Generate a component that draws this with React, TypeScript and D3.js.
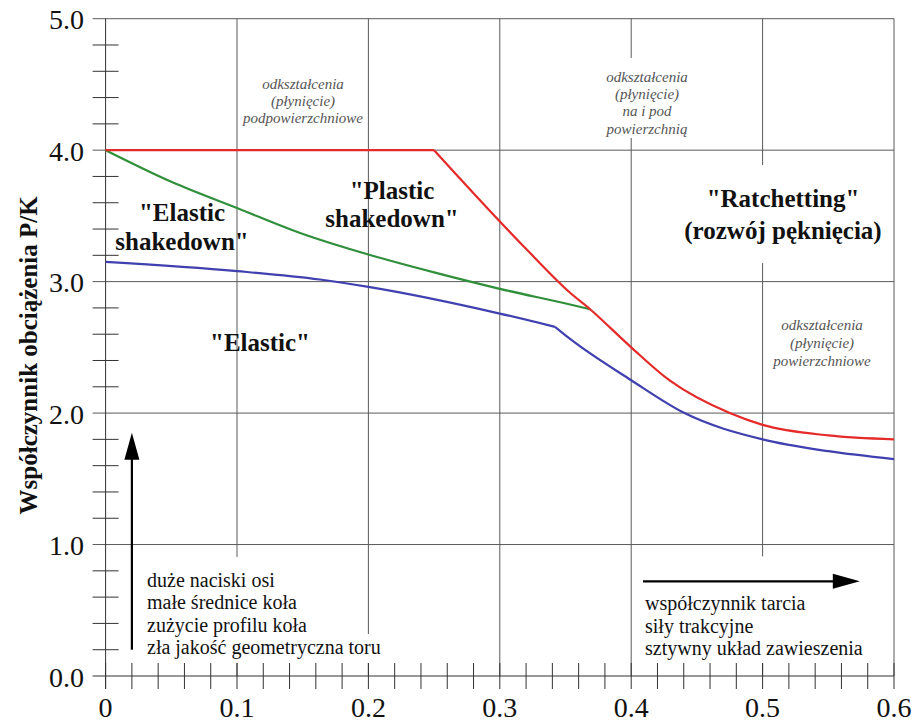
import * as d3 from "d3";

type Pt = [number, number];

const xTicks = [0, 0.1, 0.2, 0.3, 0.4, 0.5, 0.6];
const xTickLabels = ["0", "0.1", "0.2", "0.3", "0.4", "0.5", "0.6"];
const yTicks = [0, 1, 2, 3, 4, 5];
const yTickLabels = ["0.0", "1.0", "2.0", "3.0", "4.0", "5.0"];

// red: plastic shakedown limit (flat part + falling part)
const redPlateau: Pt[] = [[0, 4.0], [0.25, 4.0]];
const redDrop: Pt[] = [
  [0.25, 4.0], [0.3205, 3.244], [0.3535, 2.915], [0.3687, 2.79], [0.4, 2.5],
  [0.429, 2.25], [0.475, 2.0], [0.5, 1.91], [0.55, 1.83], [0.6, 1.8],
];
// green: elastic shakedown limit
const greenLimit: Pt[] = [
  [0, 4.0], [0.05, 3.76], [0.1, 3.56], [0.148, 3.37], [0.2, 3.206],
  [0.25, 3.07], [0.3, 2.945], [0.3535, 2.826], [0.3687, 2.79],
];
// blue: elastic limit (before and after the kink)
const blueUpper: Pt[] = [
  [0, 3.15], [0.1, 3.08], [0.163, 3.016], [0.2, 2.96], [0.3, 2.757], [0.342, 2.656],
];
const blueLower: Pt[] = [
  [0.342, 2.656], [0.3535, 2.564], [0.4, 2.25], [0.4406, 2.0], [0.5, 1.8],
  [0.55, 1.71], [0.6, 1.65],
];

const leftNotes = [
  "duże naciski osi",
  "małe średnice koła",
  "zużycie profilu koła",
  "zła jakość geometryczna toru",
];
const rightNotes = ["współczynnik tarcia", "siły trakcyjne", "sztywny układ zawieszenia"];
const subsurface = ["odkształcenia", "(płynięcie)", "podpowierzchniowe"];
const onAndUnder = ["odkształcenia", "(płynięcie)", "na i pod", "powierzchnią"];
const surface = ["odkształcenia", "(płynięcie)", "powierzchniowe"];

const SERIF = "Liberation Serif";
const W = 916;
const H = 722;

const x = d3.scaleLinear().domain([0, 0.6]).range([105.6, 894]);
const y = d3.scaleLinear().domain([0, 5]).range([676, 18.7]);
const tickOut = 13;

const straight = d3.line<Pt>().x((d) => x(d[0])).y((d) => y(d[1]));
const smooth = d3.line<Pt>().x((d) => x(d[0])).y((d) => y(d[1])).curve(d3.curveMonotoneX);

function Lines({
  lines, cx, cy, step, size, bold, italic, fill = "#111", anchor = "middle",
}: {
  lines: string[]; cx: number; cy: number; step: number; size: number;
  bold?: boolean; italic?: boolean; fill?: string; anchor?: "start" | "middle" | "end";
}) {
  return (
    <>
      {lines.map((t, i) => (
        <text
          key={i}
          x={cx}
          y={cy + i * step}
          dominantBaseline="central"
          fontFamily={SERIF}
          fontSize={size}
          fontWeight={bold ? "bold" : "normal"}
          fontStyle={italic ? "italic" : "normal"}
          fill={fill}
          textAnchor={anchor}
        >
          {t}
        </text>
      ))}
    </>
  );
}

export default function App() {
  const x0 = x(0);
  const yb = y(0);
  const leftEnd = x0 - tickOut;
  const yMinor = d3.range(1, 25).filter((i) => i % 5 !== 0).map((i) => i * 0.2);
  const xMinor = d3.range(0, 31).map((i) => i * 0.02);

  const ax = x(0.02);
  const aBottom = y(0.2);
  const aTip = y(1.85);
  const ry = y(0.72);
  const rStart = x(0.409);
  const rTip = x(0.574);
  const boxBottom = yb - tickOut;

  // white knock-outs behind some notes (gridlines are hidden there)
  const masks: [number, number, number, number][] = [
    [602, 58, 692, 138], // "na i pod powierzchnią" note
    [681, 165, 885, 263], // "Ratchetting"
    [143, 557, 277, boxBottom], // left notes, line by line
    [143, 590, 299, boxBottom],
    [143, 612, 309, boxBottom],
    [143, 634, 382, boxBottom],
    [rStart - 3, ry - 25, rTip + 4, boxBottom], // right notes + arrow
  ];

  return (
    <svg
      width={W}
      height={H}
      style={{ position: "absolute", left: 0, top: 0, background: "#fff" }}
    >
      {/* grid */}
      <g stroke="#5a5a5a" strokeWidth={1}>
        {xTicks.filter((d) => d > 0).map((d) => (
          <line key={"gv" + d} x1={x(d)} x2={x(d)} y1={y(5)} y2={yb} />
        ))}
        {yTicks.filter((d) => d > 0).map((d) => (
          <line key={"gh" + d} x1={leftEnd} x2={x(0.6)} y1={y(d)} y2={y(d)} />
        ))}
      </g>
      <g fill="#fff">
        {masks.map(([a, b, c, e], i) => (
          <rect key={i} x={a} y={b} width={c - a} height={e - b} />
        ))}
      </g>

      {/* axes */}
      <g stroke="#333" strokeWidth={1}>
        <line x1={x0} x2={x0} y1={y(5)} y2={yb + tickOut} />
        <line x1={leftEnd} x2={x(0.6)} y1={yb} y2={yb} />
        {yMinor.map((d) => (
          <line key={"ym" + d} x1={leftEnd} x2={x0 + tickOut} y1={y(d)} y2={y(d)} />
        ))}
        {xMinor.map((d) => (
          <line key={"xm" + d} x1={x(d)} x2={x(d)} y1={yb - tickOut} y2={yb + tickOut} />
        ))}
      </g>
      {yTicks.map((d, i) => (
        <text
          key={"yl" + d}
          x={84}
          y={y(d) + 1}
          textAnchor="end"
          dominantBaseline="central"
          fontFamily={SERIF}
          fontSize={28}
          fill="#111"
        >
          {yTickLabels[i]}
        </text>
      ))}
      {xTicks.map((d, i) => (
        <text
          key={"xl" + d}
          x={x(d)}
          y={707}
          textAnchor="middle"
          dominantBaseline="central"
          fontFamily={SERIF}
          fontSize={28}
          fill="#111"
        >
          {xTickLabels[i]}
        </text>
      ))}
      <text
        transform={`translate(28,${(y(0) + y(5)) / 2 + 8}) rotate(-90)`}
        textAnchor="middle"
        dominantBaseline="central"
        fontFamily={SERIF}
        fontSize={25}
        fontWeight="bold"
        fill="#111"
      >
        Współczynnik obciążenia P/K
      </text>

      {/* curves */}
      <g fill="none" strokeWidth={2.2}>
        <path d={smooth(blueUpper)!} stroke="#4040b0" />
        <path d={smooth(blueLower)!} stroke="#4040b0" />
        <path d={smooth(greenLimit)!} stroke="#2f8f3a" />
        <path d={straight(redPlateau)!} stroke="#e52a2a" />
        <path d={smooth(redDrop)!} stroke="#e52a2a" />
      </g>

      {/* region notes */}
      <Lines lines={subsurface} cx={303} cy={84} step={17.2} size={15} italic fill="#555" />
      <Lines lines={onAndUnder} cx={647} cy={77} step={17.2} size={15} italic fill="#555" />
      <Lines lines={surface} cx={822} cy={325} step={18} size={15} italic fill="#555" />

      <Lines lines={['"Elastic', 'shakedown"']} cx={182} cy={212} step={29} size={25} bold />
      <Lines lines={['"Plastic', 'shakedown"']} cx={392} cy={190} step={28.5} size={25} bold />
      <Lines lines={['"Ratchetting"', "(rozwój pęknięcia)"]} cx={783} cy={198} step={32} size={25} bold />
      <Lines lines={['"Elastic"']} cx={260} cy={342} step={0} size={25} bold />

      {/* bottom-left note */}
      <Lines lines={leftNotes} cx={147} cy={580} step={22.3} size={20} anchor="start" />
      <line x1={ax} x2={ax} y1={aBottom} y2={aTip + 20} stroke="#000" strokeWidth={2.2} />
      <path d={`M${ax},${aTip} L${ax - 7.5},${aTip + 27} L${ax + 7.5},${aTip + 27} Z`} fill="#000" />

      {/* bottom-right note */}
      <Lines lines={rightNotes} cx={645} cy={603} step={22.5} size={20} anchor="start" />
      <line x1={rStart} x2={rTip - 20} y1={ry} y2={ry} stroke="#000" strokeWidth={2.2} />
      <path d={`M${rTip},${ry} L${rTip - 27},${ry - 7.5} L${rTip - 27},${ry + 7.5} Z`} fill="#000" />
    </svg>
  );
}
